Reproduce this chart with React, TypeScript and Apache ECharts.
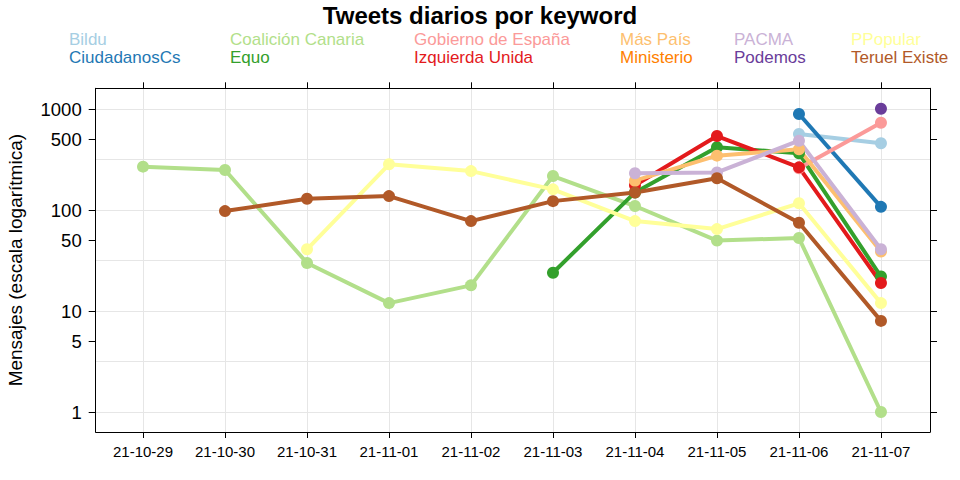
import React, { useEffect, useRef } from "react";
import * as echarts from "echarts";

const dates = ["21-10-29", "21-10-30", "21-10-31", "21-11-01", "21-11-02", "21-11-03", "21-11-04", "21-11-05", "21-11-06", "21-11-07"];

const names = ["Bildu", "CiudadanosCs", "Coalición Canaria", "Equo", "Gobierno de España", "Izquierda Unida", "Más País", "Ministerio", "PACMA", "Podemos", "PPopular", "Teruel Existe"];
const colors = ["#a6cee3", "#1f78b4", "#b2df8a", "#33a02c", "#fb9a99", "#e31a1c", "#fdbf6f", "#ff7f00", "#cab2d6", "#6a3d9a", "#ffff99", "#b15928"];

const bildu = [null, null, null, null, null, null, null, null, 569, 460];
const ciudadanosCs = [null, null, null, null, null, null, null, null, 898, 108];
const coalicionCanaria = [270, 250, 30, 12, 18, 218, 110, 50, 53, 1];
const equo = [null, null, null, null, null, 24, 150, 420, 366, 22];
const gobierno = [null, null, null, null, null, null, null, null, 260, 736];
const izquierdaUnida = [null, null, null, null, null, null, 177, 543, 266, 19];
const masPais = [null, null, null, null, null, null, 196, 347, 401, 39];
const ministerio = [null, null, null, null, null, null, null, null, null, null];
const pacma = [null, null, null, null, null, null, 232, 237, 488, 41];
const podemos = [null, null, null, null, null, null, null, null, null, 1014];
const ppopular = [null, null, 41, 285, 244, 161, 78, 65, 117, 12];
const teruelExiste = [null, 98, 130, 138, 78, 123, 150, 207, 75, 8];

const seriesValues = [bildu, ciudadanosCs, coalicionCanaria, equo, gobierno, izquierdaUnida, masPais, ministerio, pacma, podemos, ppopular, teruelExiste];

const yTicks = [1, 5, 10, 50, 100, 500, 1000];
const yGrid = [1, 3.16228, 10, 31.6228, 100, 316.228, 1000];
const xTicks = [0, 1, 2, 3, 4, 5, 6, 7, 8, 9];

const legendCols = [
  { left: 64, items: [0, 1] },
  { left: 225, items: [2, 3] },
  { left: 409, items: [4, 5] },
  { left: 615, items: [6, 7] },
  { left: 729, items: [8, 9] },
  { left: 846, items: [10, 11] },
];

const FONT = "Liberation Sans, Arial, sans-serif";

export default function App() {
  const ref = useRef<HTMLDivElement>(null);
  useEffect(() => {
    if (!ref.current) return;
    const chart = echarts.init(ref.current, null, { renderer: "svg" });
    const xMin = -0.577;
    const xMax = 9.598;
    const yMin = Math.pow(10, -0.198);
    const yMax = Math.pow(10, 3.208);
    const black = "#000";
    const option: any = {
      animation: false,
      backgroundColor: "#fff",
      textStyle: { fontFamily: FONT },
      title: {
        text: "Tweets diarios por keyword",
        left: "center",
        top: 3,
        padding: 0,
        textStyle: { fontFamily: FONT, fontWeight: "bold", fontSize: 24, color: "#000" },
      },
      legend: legendCols.map((c) => ({
        orient: "vertical",
        left: c.left,
        top: 30.5,
        padding: 0,
        itemGap: 1,
        itemWidth: 0,
        itemHeight: 0,
        icon: "none",
        selectedMode: false,
        textStyle: { fontFamily: FONT, fontSize: 17 },
        data: c.items.map((i) => ({ name: names[i], textStyle: { color: colors[i] } })),
      })),
      grid: { left: 95.7, right: 30, top: 88.3, bottom: 48, show: false, containLabel: false, outerBoundsMode: "none" },
      xAxis: [
        {
          type: "value",
          position: "bottom",
          min: xMin,
          max: xMax,
          axisLine: { show: true, onZero: false, lineStyle: { color: black, width: 1 } },
          axisTick: { show: true, customValues: xTicks, length: 6, lineStyle: { color: black } },
          axisLabel: {
            customValues: xTicks,
            formatter: (v: number) => dates[Math.round(v)],
            fontSize: 15,
            color: black,
            margin: 12,
            fontFamily: FONT,
          },
          splitLine: { show: true, lineStyle: { color: "#e6e6e6", width: 1 } },
        },
        {
          type: "value",
          position: "top",
          min: xMin,
          max: xMax,
          axisLine: { show: true, onZero: false, lineStyle: { color: black, width: 1 } },
          axisTick: { show: true, customValues: xTicks, length: 6, lineStyle: { color: black } },
          axisLabel: { show: false },
          splitLine: { show: false },
        },
      ],
      yAxis: [
        {
          type: "log",
          logBase: 10,
          position: "left",
          min: yMin,
          max: yMax,
          name: "Mensajes (escala logarítmica)",
          nameLocation: "middle",
          nameRotate: 90,
          nameGap: 71,
          nameTextStyle: { fontFamily: FONT, fontSize: 19, color: black },
          axisLine: { show: true, onZero: false, lineStyle: { color: black, width: 1 } },
          axisTick: { show: true, customValues: yTicks, length: 7, lineStyle: { color: black } },
          axisLabel: {
            customValues: yTicks,
            formatter: (v: number) => String(Math.round(v)),
            fontSize: 18.5,
            color: black,
            margin: 14,
            fontFamily: FONT,
          },
          splitLine: { show: false },
        },
        {
          type: "log",
          logBase: 10,
          position: "right",
          min: yMin,
          max: yMax,
          axisLine: { show: true, onZero: false, lineStyle: { color: black, width: 1 } },
          axisTick: { show: true, customValues: yTicks, length: 7, lineStyle: { color: black } },
          axisLabel: { show: false },
          splitLine: { show: false },
        },
        {
          type: "log",
          logBase: 10,
          position: "left",
          min: yMin,
          max: yMax,
          axisLine: { show: false, onZero: false },
          axisTick: { show: false, customValues: yGrid },
          axisLabel: { show: false },
          splitLine: { show: true, lineStyle: { color: "#e6e6e6", width: 1 } },
        },
      ],
      series: seriesValues.map((vals, i) => ({
        name: names[i],
        type: "line",
        xAxisIndex: 0,
        yAxisIndex: 0,
        data: vals.map((v, j) => (v == null ? null : [j, v])).filter((d) => d != null),
        color: colors[i],
        lineStyle: { color: colors[i], width: 4 },
        itemStyle: { color: colors[i] },
        symbol: "circle",
        symbolSize: 12,
        showSymbol: true,
        emphasis: { disabled: true },
      })),
    };
    chart.setOption(option);
    return () => chart.dispose();
  }, []);
  return <div ref={ref} style={{ width: 960, height: 480, position: "absolute", left: 0, top: 0 }} />;
}
